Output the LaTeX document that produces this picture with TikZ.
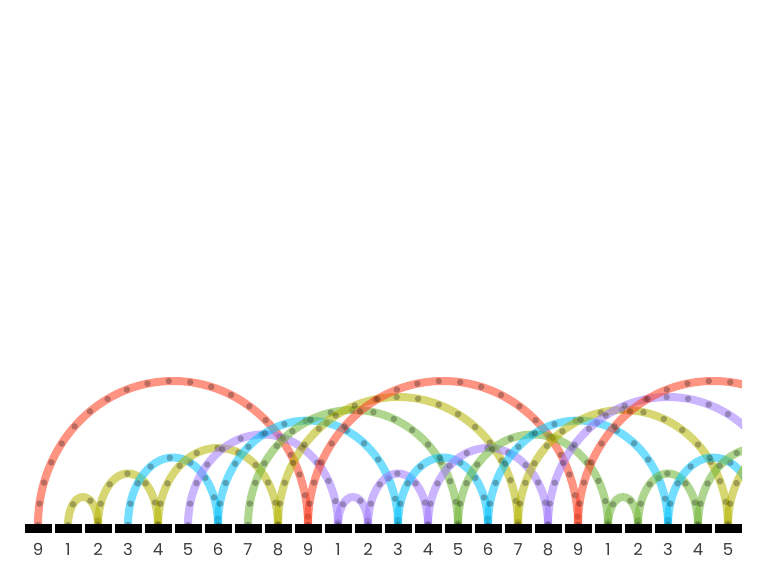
\documentclass[tikz,border=0pt]{standalone}
\usepackage{fontspec}
\setmainfont{Poppins}
\definecolor{cred}{RGB}{255,60,30}
\definecolor{cyel}{RGB}{180,180,0}
\definecolor{cblu}{RGB}{0,195,255}
\definecolor{cpur}{RGB}{160,120,255}
\definecolor{cgrn}{RGB}{110,180,50}
\definecolor{labgray}{RGB}{60,60,60}
\begin{document}
\begin{tikzpicture}[x=1pt,y=1pt,
  arcline/.style={line width=8pt, opacity=0.55},
  dotline/.style={line width=6.5pt, line cap=round, dash pattern=on 0pt off 21.5pt, draw=black, opacity=0.27},
  barbox/.style={fill=black, draw=none, minimum width=27pt, minimum height=9.5pt, inner sep=0pt, outer sep=0pt},
  lab/.style={text=labgray, font=\fontsize{16.5}{16.5}\selectfont, inner sep=0pt, anchor=base}]
\useasboundingbox (0,0) rectangle (768,576);
\foreach \i in {0,...,28} \coordinate (p\i) at ({38+30*\i},51);
\begin{scope}
  \clip (0,0) rectangle (742,576);
  \foreach \i/\d/\ry/\c in {0/9/144/cred,1/1/28/cyel,2/2/51.5/cyel,3/3/67.5/cblu,4/4/77/cyel,
      5/5/90.5/cpur,6/6/104.5/cblu,7/7/115/cgrn,8/8/128/cyel,9/9/144/cred,
      10/1/28/cpur,11/2/51.5/cpur,12/3/67.5/cblu,13/4/77/cpur,14/5/90.5/cgrn,
      15/6/104.5/cblu,16/7/115/cyel,17/8/128/cpur,18/9/144/cred,19/1/28/cgrn,
      20/2/51.5/cgrn,21/3/67.5/cblu,22/4/77/cgrn,23/5/90.5/cyel} {
    \draw[arcline, draw=\c] (p\i) arc[start angle=180, end angle=0, x radius={15*\d}, y radius=\ry];
    \draw[dotline] (p\i) arc[start angle=180, end angle=0, x radius={15*\d}, y radius=\ry];
  }
\end{scope}
\foreach \i in {0,...,23} {
  \pgfmathtruncatemacro{\dg}{mod(\i+8,9)+1}
  \node[barbox] (b\i) at ({38+30*\i},47.75) {};
  \node[lab] (l\i) at ({38+30*\i},20.5) {\dg};
}
\end{tikzpicture}
\end{document}
